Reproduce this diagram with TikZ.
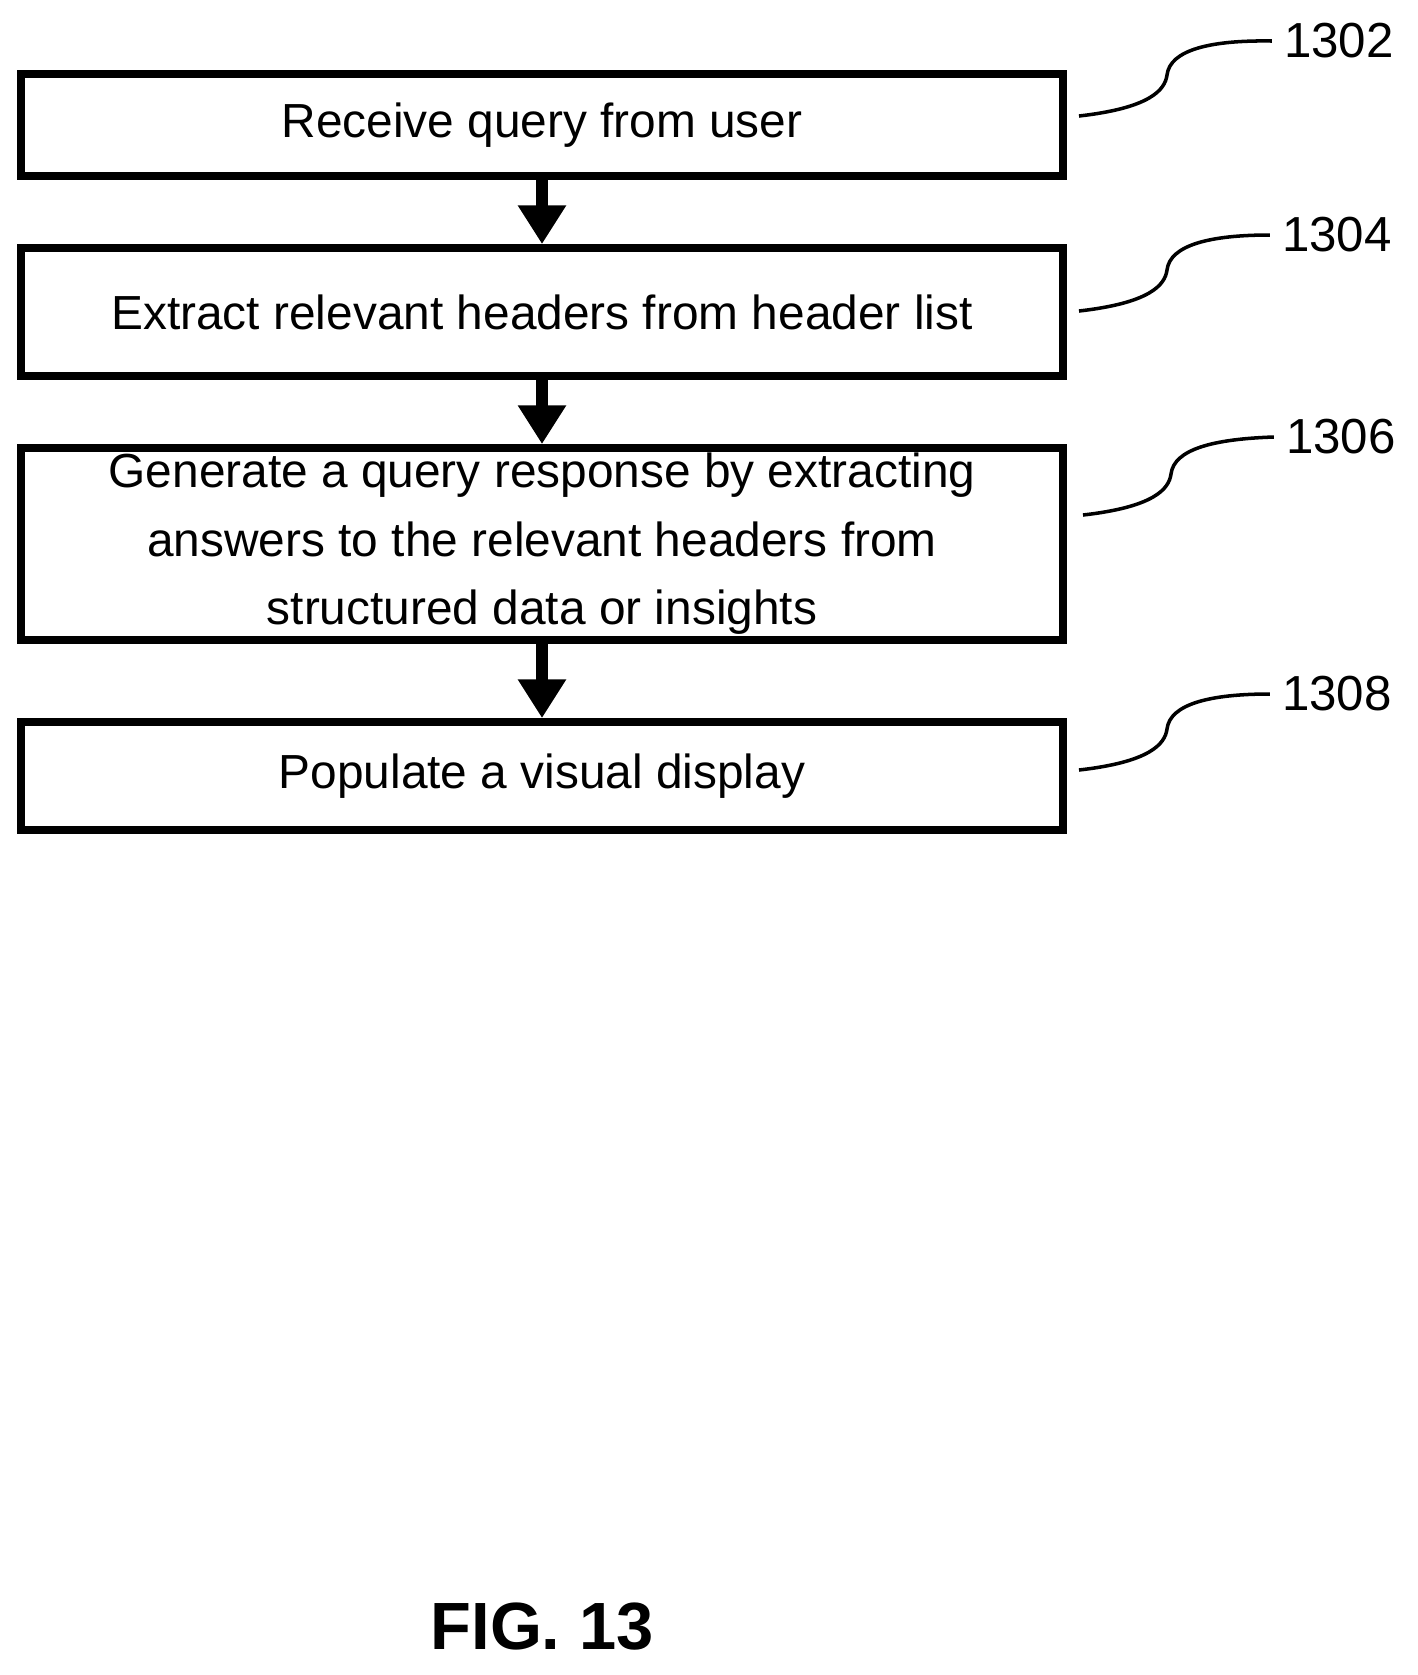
\documentclass[tikz,border=0pt]{standalone}
\usepackage{fontspec}
\setmainfont{Liberation Sans}
\usetikzlibrary{positioning}
\usetikzlibrary{arrows.meta}

\begin{document}
\begin{tikzpicture}[x=0.01cm, y=-0.01cm,
    stepbox/.style={draw, line width=2.2pt, minimum width=10.42cm, align=center, font=\fontsize{13.6}{19.5}\selectfont, inner sep=0pt},
    flow/.style={-{Triangle[width=13pt, length=11pt]}, line width=3.2pt},
    lead/.style={line width=1pt},
    ref/.style={font=\fontsize{14}{16}\selectfont}]
    \useasboundingbox (0,0) rectangle (1417,1675);
    % Process steps
    \node[stepbox, minimum height=1.02cm] (s1) at (542,125) {Receive query from user};
    \node[stepbox, minimum height=1.28cm] (s2) at (542,312) {Extract relevant headers from header list};
    \node[stepbox, minimum height=1.92cm] (s3) at (542,544) {Generate a query response by extracting\\answers to the relevant headers from\\structured data or insights};
    \node[stepbox, minimum height=1.08cm] (s4) at (542,776) {Populate a visual display};

    \draw[flow] (s1) -- (s2);
    \draw[flow] (s2) -- (s3);
    \draw[flow] (s3) -- (s4);

    % Reference numerals
    \node[ref] (r1) at (1339,41) {1302};
    \node[ref] (r2) at (1337,235) {1304};
    \node[ref] (r3) at (1341,437) {1306};
    \node[ref] (r4) at (1337,694) {1308};

    \draw[lead] (1079,116) .. controls (1150,108) and (1165,90) .. (1167,75) .. controls (1170,50) and (1210,40) .. (r1.west);
    \draw[lead] (1079,311) .. controls (1150,303) and (1165,285) .. (1167,270) .. controls (1170,245) and (1210,235) .. (r2.west);
    \draw[lead] (1083,515) .. controls (1154,507) and (1169,489) .. (1171,474) .. controls (1174,449) and (1214,439) .. (r3.west);
    \draw[lead] (1079,770) .. controls (1150,762) and (1165,744) .. (1167,729) .. controls (1170,704) and (1210,694) .. (r4.west);

    \node[font=\fontsize{19}{22}\selectfont\bfseries] (fig) at (542,1627) {FIG. 13};
\end{tikzpicture}
\end{document}
